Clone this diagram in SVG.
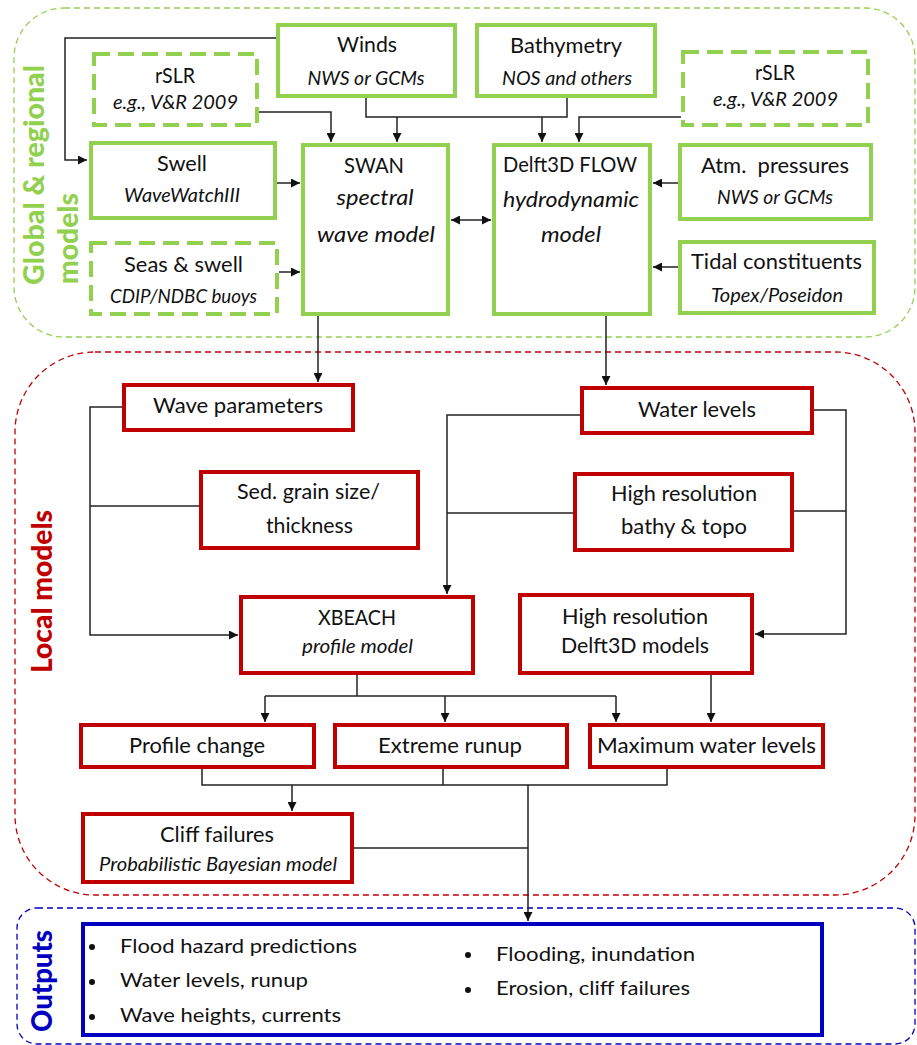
<svg xmlns="http://www.w3.org/2000/svg" width="917" height="1045" viewBox="0 0 917 1045">
<style>
text{font-family:Lato,"Liberation Sans",sans-serif;fill:#111;}
.t{font-size:21px;text-anchor:middle;}
.i{font-size:19px;font-style:italic;text-anchor:middle;}
.ib{font-size:21px;font-style:italic;text-anchor:middle;}
.o{font-size:20px;}
.g{fill:#fff;stroke:#92D050;stroke-width:4;}
.gd{fill:#fff;stroke:#92D050;stroke-width:4;stroke-dasharray:16 8;}
.r{fill:#fff;stroke:#C00000;stroke-width:4;}
.b{fill:#fff;stroke:#0000C0;stroke-width:4;}
.c{fill:none;stroke:#222;stroke-width:1.5;}
.lab{font-weight:900;font-size:29px;}
</style>
<defs>
<marker id="ah" viewBox="0 0 10 10" refX="10" refY="5" markerWidth="9" markerHeight="9" markerUnits="userSpaceOnUse" orient="auto-start-reverse">
<path d="M0,0 L10,5 L0,10 z" fill="#111"/>
</marker>
</defs>
<rect width="917" height="1045" fill="#fff"/>
<g id="containers">
<rect x="14" y="8" width="901" height="329" rx="50" ry="50" fill="none" stroke="#92D050" stroke-width="1.3" stroke-dasharray="6 4"/>
<rect x="15" y="352" width="900" height="543" rx="80" ry="80" fill="none" stroke="#C00000" stroke-width="1.3" stroke-dasharray="6 4"/>
<rect x="17" y="908" width="898" height="136" rx="20" ry="20" fill="none" stroke="#0000C0" stroke-width="1.3" stroke-dasharray="6 4"/>
<text class="lab" style="fill:#92D050" transform="translate(44,285) rotate(-90)" textLength="220" lengthAdjust="spacingAndGlyphs">Global &amp; regional</text>
<text class="lab" style="fill:#92D050" transform="translate(78,284) rotate(-90)" textLength="91" lengthAdjust="spacingAndGlyphs">models</text>
<text class="lab" style="fill:#C00000" transform="translate(52,673) rotate(-90)" textLength="163" lengthAdjust="spacingAndGlyphs">Local models</text>
<text class="lab" style="fill:#0000C0" transform="translate(52,1032) rotate(-90)" textLength="102" lengthAdjust="spacingAndGlyphs">Outputs</text>
</g>
<g id="connectors">
<path class="c" d="M276,38 H65 V160 H87" marker-end="url(#ah)"/>
<path class="c" d="M259,112 H331 V142" marker-end="url(#ah)"/>
<path class="c" d="M366,98 V117 H567 V98"/>
<path class="c" d="M397,117 V142" marker-end="url(#ah)"/>
<path class="c" d="M542,117 V142" marker-end="url(#ah)"/>
<path class="c" d="M681,117 H579 V142" marker-end="url(#ah)"/>
<path class="c" d="M277,183 H300" marker-end="url(#ah)"/>
<path class="c" d="M279,272 H300" marker-end="url(#ah)"/>
<path class="c" d="M451,220 H491" marker-start="url(#ah)" marker-end="url(#ah)"/>
<path class="c" d="M678,183 H653" marker-end="url(#ah)"/>
<path class="c" d="M678,267 H653" marker-end="url(#ah)"/>
<path class="c" d="M318,316 V382" marker-end="url(#ah)"/>
<path class="c" d="M606,316 V385" marker-end="url(#ah)"/>
<path class="c" d="M122,407 H90 V635 H238" marker-end="url(#ah)"/>
<path class="c" d="M199,506 H90"/>
<path class="c" d="M580,415 H447 V594" marker-end="url(#ah)"/>
<path class="c" d="M573,513 H447"/>
<path class="c" d="M814,410 H846 V634 H755" marker-end="url(#ah)"/>
<path class="c" d="M794,511 H846"/>
<path class="c" d="M357,675 V696"/>
<path class="c" d="M265,696 H616"/>
<path class="c" d="M265,696 V722" marker-end="url(#ah)"/>
<path class="c" d="M445,696 V722" marker-end="url(#ah)"/>
<path class="c" d="M616,696 V722" marker-end="url(#ah)"/>
<path class="c" d="M711,675 V722" marker-end="url(#ah)"/>
<path class="c" d="M202,769 V785 H667 V769"/>
<path class="c" d="M443,769 V785"/>
<path class="c" d="M292,785 V811" marker-end="url(#ah)"/>
<path class="c" d="M354,848 H528"/>
<path class="c" d="M528,785 V921" marker-end="url(#ah)"/>
</g>
<g id="winds"><rect class="g" x="278" y="25" width="177" height="71"/><text class="t" x="367" y="52" textLength="60" lengthAdjust="spacingAndGlyphs">Winds</text><text class="i" x="366" y="85" textLength="117" lengthAdjust="spacingAndGlyphs">NWS or GCMs</text></g>
<g id="bathymetry"><rect class="g" x="477" y="25" width="178" height="71"/><text class="t" x="566" y="53" textLength="112" lengthAdjust="spacingAndGlyphs">Bathymetry</text><text class="i" x="567" y="85" textLength="130" lengthAdjust="spacingAndGlyphs">NOS and others</text></g>
<g id="rslr-left"><rect class="gd" x="94" y="54" width="163" height="71"/><text class="t" x="175" y="83" textLength="40" lengthAdjust="spacingAndGlyphs">rSLR</text><text class="i" x="175.5" y="109" textLength="125" lengthAdjust="spacingAndGlyphs">e.g., V&amp;R 2009</text></g>
<g id="rslr-right"><rect class="gd" x="683" y="52" width="185" height="73"/><text class="t" x="775" y="80" textLength="40" lengthAdjust="spacingAndGlyphs">rSLR</text><text class="i" x="775.5" y="106" textLength="125" lengthAdjust="spacingAndGlyphs">e.g., V&amp;R 2009</text></g>
<g id="swell"><rect class="g" x="91" y="143" width="184" height="75"/><text class="t" x="182" y="171" textLength="50" lengthAdjust="spacingAndGlyphs">Swell</text><text class="i" x="182" y="202" textLength="116" lengthAdjust="spacingAndGlyphs">WaveWatchIII</text></g>
<g id="swan"><rect class="g" x="303" y="145" width="145" height="169"/><text class="t" x="374" y="173" textLength="60" lengthAdjust="spacingAndGlyphs">SWAN</text><text class="ib" x="375" y="205" textLength="77" lengthAdjust="spacingAndGlyphs">spectral</text><text class="ib" x="376" y="242" textLength="118" lengthAdjust="spacingAndGlyphs">wave model</text></g>
<g id="seas-swell"><rect class="gd" x="91" y="243" width="186" height="71"/><text class="t" x="183.5" y="272" textLength="119" lengthAdjust="spacingAndGlyphs">Seas &amp; swell</text><text class="i" x="183.5" y="303" textLength="147" lengthAdjust="spacingAndGlyphs">CDIP/NDBC buoys</text></g>
<g id="delft3d-flow"><rect class="g" x="494" y="145" width="156" height="169"/><text class="t" x="570" y="172" textLength="134" lengthAdjust="spacingAndGlyphs">Delft3D FLOW</text><text class="ib" x="571" y="207" textLength="136" lengthAdjust="spacingAndGlyphs">hydrodynamic</text><text class="ib" x="571" y="242" textLength="60" lengthAdjust="spacingAndGlyphs">model</text></g>
<g id="atm-pressures"><rect class="g" x="680" y="145" width="191" height="74"/><text class="t" x="775" y="173" textLength="148" lengthAdjust="spacingAndGlyphs" xml:space="preserve">Atm.  pressures</text><text class="i" x="775" y="204" textLength="116" lengthAdjust="spacingAndGlyphs">NWS or GCMs</text></g>
<g id="tidal"><rect class="g" x="680" y="242" width="194" height="71"/><text class="t" x="776.5" y="269" textLength="171" lengthAdjust="spacingAndGlyphs">Tidal constituents</text><text class="i" x="777" y="302" textLength="132" lengthAdjust="spacingAndGlyphs">Topex/Poseidon</text></g>
<g id="wave-parameters"><rect class="r" x="124" y="385" width="229" height="45"/><text class="t" x="238" y="413" textLength="170" lengthAdjust="spacingAndGlyphs">Wave parameters</text></g>
<g id="water-levels"><rect class="r" x="582" y="388" width="230" height="45"/><text class="t" x="697" y="417" textLength="118" lengthAdjust="spacingAndGlyphs">Water levels</text></g>
<g id="sed-grain"><rect class="r" x="201" y="472" width="217" height="76"/><text class="t" x="308.5" y="499" textLength="143" lengthAdjust="spacingAndGlyphs">Sed. grain size/</text><text class="t" x="309.5" y="533" textLength="87" lengthAdjust="spacingAndGlyphs">thickness</text></g>
<g id="hr-bathy"><rect class="r" x="575" y="474" width="217" height="76"/><text class="t" x="684" y="501" textLength="146" lengthAdjust="spacingAndGlyphs">High resolution</text><text class="t" x="684" y="534" textLength="126" lengthAdjust="spacingAndGlyphs">bathy &amp; topo</text></g>
<g id="xbeach"><rect class="r" x="241" y="597" width="232" height="76"/><text class="t" x="357" y="625" textLength="78" lengthAdjust="spacingAndGlyphs">XBEACH</text><text class="i" x="357.5" y="653" textLength="111" lengthAdjust="spacingAndGlyphs">profile model</text></g>
<g id="hr-delft3d"><rect class="r" x="520" y="595" width="232" height="78"/><text class="t" x="635" y="624" textLength="146" lengthAdjust="spacingAndGlyphs">High resolution</text><text class="t" x="635" y="653" textLength="148" lengthAdjust="spacingAndGlyphs">Delft3D models</text></g>
<g id="profile-change"><rect class="r" x="81" y="725" width="233" height="42"/><text class="t" x="197" y="753" textLength="136" lengthAdjust="spacingAndGlyphs">Profile change</text></g>
<g id="extreme-runup"><rect class="r" x="335" y="725" width="232" height="42"/><text class="t" x="450" y="753" textLength="144" lengthAdjust="spacingAndGlyphs">Extreme runup</text></g>
<g id="max-water-levels"><rect class="r" x="590" y="725" width="233" height="42"/><text class="t" x="706.5" y="753" textLength="219" lengthAdjust="spacingAndGlyphs">Maximum water levels</text></g>
<g id="cliff-failures"><rect class="r" x="83" y="814" width="269" height="68"/><text class="t" x="217" y="842" textLength="114" lengthAdjust="spacingAndGlyphs">Cliff failures</text><text class="i" x="218" y="871" textLength="238" lengthAdjust="spacingAndGlyphs">Probabilistic Bayesian model</text></g>
<g id="outputs"><rect class="b" x="83" y="924" width="739" height="111"/>
<circle cx="92" cy="947" r="3" fill="#111"/><circle cx="92" cy="982" r="3" fill="#111"/><circle cx="92" cy="1017" r="3" fill="#111"/><circle cx="468" cy="955" r="3" fill="#111"/><circle cx="468" cy="990" r="3" fill="#111"/>
<text class="o" x="120" y="953" textLength="237" lengthAdjust="spacingAndGlyphs">Flood hazard predictions</text>
<text class="o" x="120" y="987" textLength="188" lengthAdjust="spacingAndGlyphs">Water levels, runup</text>
<text class="o" x="120" y="1022" textLength="221" lengthAdjust="spacingAndGlyphs">Wave heights, currents</text>
<text class="o" x="496" y="961" textLength="199" lengthAdjust="spacingAndGlyphs">Flooding, inundation</text>
<text class="o" x="496" y="995" textLength="194" lengthAdjust="spacingAndGlyphs">Erosion, cliff failures</text>
</g>
</svg>
